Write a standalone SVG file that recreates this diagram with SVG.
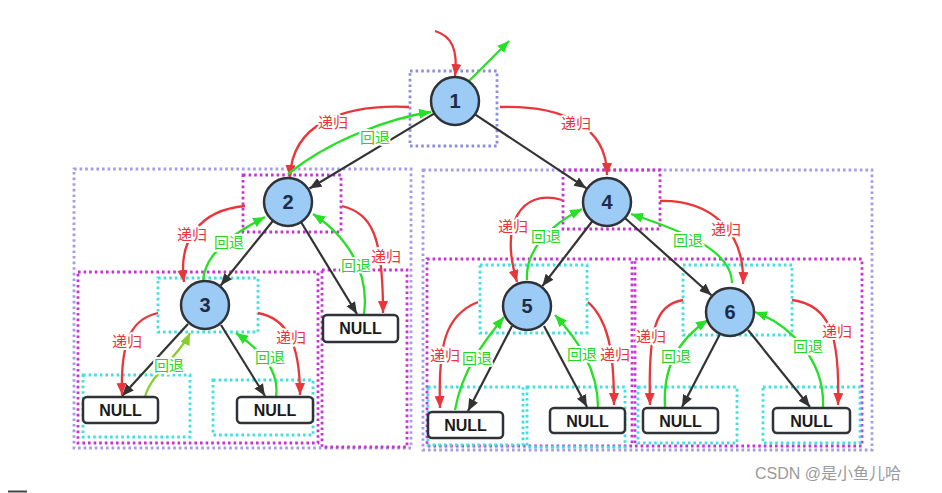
<svg xmlns="http://www.w3.org/2000/svg" width="942" height="493" viewBox="0 0 942 493">
<defs>
<style>
.frame{fill:none;stroke-width:2.8;stroke-dasharray:2.6 3}
.outer{stroke:#a79ae8}
.top{stroke:#8c8ce0}
.mag{stroke:#c832d2}
.cyan{stroke:#3ee0e0}
.node circle{fill:#9ccbf6;stroke:#2f3338;stroke-width:2.5}
.node .num{font-family:"Liberation Sans",Arial,sans-serif;font-weight:bold;font-size:20px;fill:#1d2c48;text-anchor:middle}
.null rect{fill:#fff;stroke:#2f3338;stroke-width:2.5}
.null text{font-family:"Liberation Sans",Arial,sans-serif;font-weight:bold;font-size:16px;fill:#1a1a1a;text-anchor:middle}
.edge{fill:none;stroke:#333;stroke-width:2.2;marker-end:url(#mk)}
.rec{fill:none;stroke:#e8363b;stroke-width:2.3;marker-end:url(#mr)}
.back{fill:none;stroke:#26e026;stroke-width:2.3;marker-end:url(#mg)}
.olive{fill:none;stroke:#86cf2a;stroke-width:2.3;marker-end:url(#mo)}
.lbl{font-family:"Noto Sans CJK SC","Noto Sans",sans-serif;font-size:15px;text-anchor:middle;stroke:#fff;stroke-width:4;paint-order:stroke;stroke-linejoin:round}
.lr{fill:#e8363b}
.lg{fill:#22d622}
</style>
<marker id="mk" markerUnits="userSpaceOnUse" markerWidth="13" markerHeight="11" refX="12" refY="5" orient="auto"><path d="M0,0 L12,5 L0,10 z" fill="#333"/></marker>
<marker id="mr" markerUnits="userSpaceOnUse" markerWidth="13" markerHeight="11" refX="12" refY="5" orient="auto"><path d="M0,0 L12,5 L0,10 z" fill="#e8363b"/></marker>
<marker id="mg" markerUnits="userSpaceOnUse" markerWidth="13" markerHeight="11" refX="12" refY="5" orient="auto"><path d="M0,0 L12,5 L0,10 z" fill="#26e026"/></marker>
<marker id="mo" markerUnits="userSpaceOnUse" markerWidth="13" markerHeight="11" refX="12" refY="5" orient="auto"><path d="M0,0 L12,5 L0,10 z" fill="#86cf2a"/></marker>
</defs>
<rect width="942" height="493" fill="#fff"/>
<g id="frames">
<rect class="frame outer" x="74" y="169" width="337" height="279"/>
<rect class="frame outer" x="423" y="170" width="449" height="280"/>
<rect class="frame top" x="410" y="71" width="87" height="75"/>
<rect class="frame mag" x="243" y="175" width="98" height="57"/>
<rect class="frame mag" x="563" y="170" width="97" height="59"/>
<rect class="frame mag" x="78" y="272" width="240" height="171"/>
<rect class="frame mag" x="322" y="270" width="85" height="177"/>
<rect class="frame mag" x="427" y="259" width="205" height="187"/>
<rect class="frame mag" x="635" y="259" width="227" height="187"/>
<rect class="frame cyan" x="158" y="278" width="100" height="54"/>
<rect class="frame cyan" x="83" y="375" width="107" height="62"/>
<rect class="frame cyan" x="213" y="380" width="100" height="55"/>
<rect class="frame cyan" x="480" y="265" width="107" height="68"/>
<rect class="frame cyan" x="428" y="387" width="95" height="58"/>
<rect class="frame cyan" x="527" y="387" width="98" height="60"/>
<rect class="frame cyan" x="683" y="265" width="109" height="70"/>
<rect class="frame cyan" x="638" y="387" width="99" height="56"/>
<rect class="frame cyan" x="763" y="387" width="97" height="56"/>
</g>
<g id="connectors">
<path class="edge" d="M434.5,113.4 L309.5,188.5"/>
<path class="edge" d="M475,114.3 L586.2,188.2"/>
<path class="edge" d="M273,220.7 L220.7,285.5"/>
<path class="edge" d="M301,222 L357,314"/>
<path class="edge" d="M188,324 L122,396"/>
<path class="edge" d="M221,325 L265,396"/>
<path class="edge" d="M592.4,221 L542.3,286.2"/>
<path class="edge" d="M624.9,218 L711.4,295.3"/>
<path class="edge" d="M512,326 L468,411"/>
<path class="edge" d="M544,326 L587,407"/>
<path class="edge" d="M720,334 L682,407"/>
<path class="edge" d="M748,330 L810,407"/>
<path class="rec" d="M435,31 C452,36 458,50 455,76"/>
<path class="rec" d="M409,107 C340,104 292,125 290,177"/>
<path class="rec" d="M500,107 C560,105 607,125 607,175"/>
<path class="rec" d="M245,206 C200,210 178,240 184,282"/>
<path class="rec" d="M342,206 C372,214 383,235 383,313"/>
<path class="rec" d="M158,313 C135,318 120,335 122,395"/>
<path class="rec" d="M258,313 C285,318 300,340 300,395"/>
<path class="rec" d="M562,200 C520,188 500,225 517,282"/>
<path class="rec" d="M660,201 C710,200 745,230 743,284"/>
<path class="rec" d="M478,302 C445,315 438,345 440,408"/>
<path class="rec" d="M588,302 C608,320 614,350 614,405"/>
<path class="rec" d="M683,300 C655,305 648,330 650,405"/>
<path class="rec" d="M792,300 C830,305 840,335 838,405"/>
<path class="back" d="M468,82 L509,41"/>
<path class="back" d="M288,174 C330,140 390,118 431,112"/>
<path class="back" d="M203,281 C205,250 240,230 265,217"/>
<path class="back" d="M364,314 C370,270 345,235 313,214"/>
<path class="olive" d="M145,397 C150,375 180,355 190,333"/>
<path class="back" d="M276,397 C280,370 260,350 236,333"/>
<path class="back" d="M527,280 C525,250 550,225 582,209"/>
<path class="back" d="M732,283 C732,250 680,230 631,214"/>
<path class="back" d="M455,410 C462,370 485,340 504,317"/>
<path class="back" d="M598,407 C598,370 578,340 555,315"/>
<path class="back" d="M665,407 C662,360 685,335 708,320"/>
<path class="back" d="M823,407 C825,360 790,325 755,312"/>
</g>
<g id="labels">
<text class="lbl lr" x="333" y="128">递归</text>
<text class="lbl lg" x="375" y="143">回退</text>
<text class="lbl lr" x="576" y="129">递归</text>
<text class="lbl lr" x="192" y="240">递归</text>
<text class="lbl lg" x="229" y="248">回退</text>
<text class="lbl lg" x="356" y="271">回退</text>
<text class="lbl lr" x="386" y="262">递归</text>
<text class="lbl lr" x="127" y="347">递归</text>
<text class="lbl lg" x="169" y="371">回退</text>
<text class="lbl lr" x="291" y="343">递归</text>
<text class="lbl lg" x="270" y="363">回退</text>
<text class="lbl lr" x="513" y="232">递归</text>
<text class="lbl lg" x="546" y="242">回退</text>
<text class="lbl lg" x="688" y="246">回退</text>
<text class="lbl lr" x="726" y="235">递归</text>
<text class="lbl lr" x="445" y="361">递归</text>
<text class="lbl lg" x="477" y="364">回退</text>
<text class="lbl lg" x="582" y="360">回退</text>
<text class="lbl lr" x="615" y="360">递归</text>
<text class="lbl lr" x="651" y="342">递归</text>
<text class="lbl lg" x="676" y="362">回退</text>
<text class="lbl lg" x="808" y="352">回退</text>
<text class="lbl lr" x="837" y="337">递归</text>
</g>
<g id="node1" class="node"><circle cx="455" cy="101" r="24"/><text class="num" x="455" y="108">1</text></g>
<g id="node2" class="node"><circle cx="288" cy="202" r="24"/><text class="num" x="288" y="209">2</text></g>
<g id="node3" class="node"><circle cx="205" cy="305" r="24"/><text class="num" x="205" y="312">3</text></g>
<g id="node4" class="node"><circle cx="607" cy="202" r="24"/><text class="num" x="607" y="209">4</text></g>
<g id="node5" class="node"><circle cx="527" cy="306" r="24"/><text class="num" x="527" y="313">5</text></g>
<g id="node6" class="node"><circle cx="730" cy="312" r="24"/><text class="num" x="730" y="319">6</text></g>
<g id="null2r" class="null"><rect x="323" y="315" width="75" height="27" rx="4"/><text x="360.5" y="334">NULL</text></g>
<g id="null3l" class="null"><rect x="83" y="397" width="75" height="26" rx="4"/><text x="120.5" y="416">NULL</text></g>
<g id="null3r" class="null"><rect x="237" y="397" width="76" height="26" rx="4"/><text x="275" y="416">NULL</text></g>
<g id="null5l" class="null"><rect x="428" y="412" width="75" height="26" rx="4"/><text x="465.5" y="431">NULL</text></g>
<g id="null5r" class="null"><rect x="550" y="408" width="75" height="25" rx="4"/><text x="587.5" y="426.5">NULL</text></g>
<g id="null6l" class="null"><rect x="643" y="408" width="75" height="25" rx="4"/><text x="680.5" y="426.5">NULL</text></g>
<g id="null6r" class="null"><rect x="773" y="408" width="77" height="25" rx="4"/><text x="811.5" y="426.5">NULL</text></g>
<text x="755" y="479" font-family="Liberation Sans,Noto Sans CJK SC,sans-serif" font-size="16" fill="#9a9a9a">CSDN @是小鱼儿哈</text>
<line x1="8" y1="491.5" x2="27" y2="491.5" stroke="#444" stroke-width="2"/>
</svg>
